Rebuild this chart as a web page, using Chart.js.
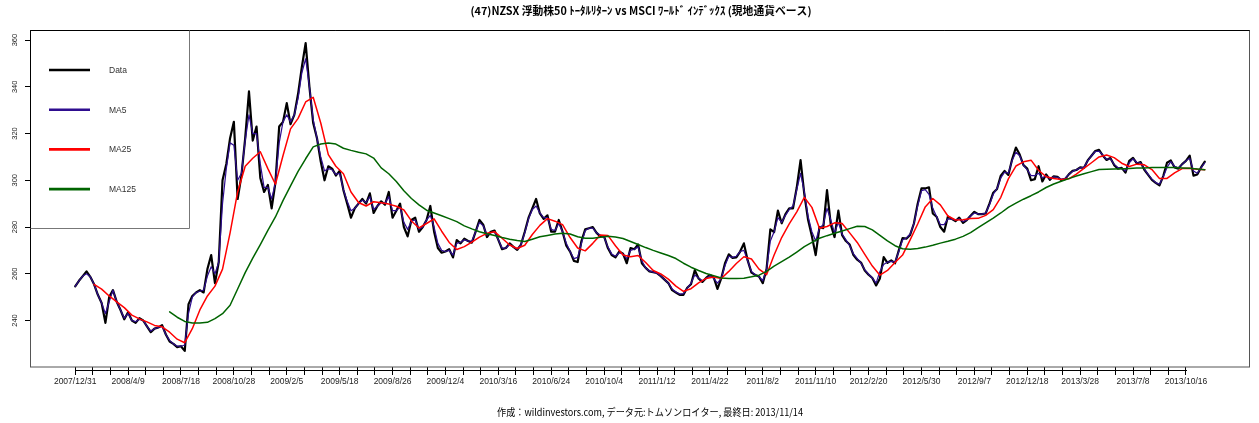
<!DOCTYPE html>
<html><head><meta charset="utf-8">
<script src="https://cdn.jsdelivr.net/npm/chart.js@4.4.1/dist/chart.umd.min.js"></script>
<style>html,body{margin:0;padding:0;background:#fff;}canvas{display:block;}</style>
</head><body>
<canvas id="c" width="1259" height="423"></canvas>
<script>
const titleText = '(47)NZSX 浮動株50 ﾄｰﾀﾙﾘﾀｰﾝ vs MSCI ﾜｰﾙﾄﾞ ｲﾝﾃﾞｯｸｽ (現地通貨ベース)';
const footerText = '作成：wildinvestors.com, データ元:トムソンロイター, 最終日: 2013/11/14';
const seriesNames = ['Data', 'MA5', 'MA25', 'MA125'];
const xLabels = ['2007/12/31','2008/4/9','2008/7/18','2008/10/28','2009/2/5','2009/5/18','2009/8/26','2009/12/4','2010/3/16','2010/6/24','2010/10/4','2011/1/12','2011/4/22','2011/8/2','2011/11/10','2012/2/20','2012/5/30','2012/9/7','2012/12/18','2013/3/28','2013/7/8','2013/10/16'];
const labelEvery = 70;      // trading days between labelled dates
const minorPerLabel = 3;    // tick marks per labelled interval
const yTicks = [240, 260, 280, 300, 320, 340, 360];
const lastIndex = 1495;     // last trading-day index (2013/11/14)

// closing values, one every 5 trading days from index 0
const dataStep = 5;
const dataValues = [
254.6,257,259,261,258.7,255.5,251,247.5,239,250,
253,248,244.5,240.5,243.5,240,239,241,240,237.5,
235,236.5,237,238,234,231,230,228.6,229,227,
247,250.5,252,253,252,262,268,256,265,300,
307,318,325,292,302,318,338,317,323,301,
295,298,288,299,323,325,333,324,328,337,
348.5,358.7,340,324.5,318,308,300,306,305,302,
304,295.8,290,284,288,290,292,290,294.4,286,
289,291,289.5,295,284,287,290,280,276,283,
284,278,280,283,289,278,271,269,269.5,270.5,
267,274.4,273,275,274,273.3,278,283,281,275.7,
278,278.5,274.5,270.5,271,273,271.5,270.2,272.5,278,
284,288,292,285.8,283.5,285,278,278,283,278,
272,269.5,265.5,265,274,279,279.5,280,277.5,276,
276,271,268,267,269.5,268.6,264.5,271,270.5,272.5,
264.5,262.5,261,260.7,260.3,259,257.5,256,253,252,
251,251,254,255.5,261.5,258,256.5,258.2,259.5,258.5,
253.5,258,264.5,268.3,266.8,267,269.5,273,265.7,260.5,
259.5,258.8,256,262,279,277.8,287,281.6,285.5,288,
288,297,308.6,294,283,276,268,280,279.5,295.8,
281,275.7,287,276.5,274,272.5,268,266,264.8,261.4,
259.6,258.2,255,258,267.1,264.7,265.7,264.5,270,275.3,
275,276.6,281.5,290,296.5,296.5,297,285.8,284.4,280,
278,284.5,283.5,282.5,284,281.8,283,284.8,286.5,285.5,
285.5,285.8,290,294.7,296.3,302,304,302.3,309,314,
311,306.5,305,300,300.5,306,299.5,302.5,300.2,301.7,
301.5,300,300.5,302.5,304,304.4,305.5,305.3,308.5,310.5,
312.5,313,310.6,308.7,309.5,306.5,305,305.3,303.3,308.3,
309.6,307.2,307.8,304.5,302.3,300.2,298.9,297.8,301.8,307.5,
308.5,305.5,305,306.9,308.3,310.5,302,302.5,305.5,308
];
const ma5Values = [
254.6,257,259,260,258.7,255.5,251,247.5,243,248,
253,248,244.5,241,243,240,239.5,240.5,240,237.5,
235.5,236.5,237,237.5,234,231.5,230,229,229,229.5,
243,250,252,252.5,253,259,263,260,265,290,
305,316,315,300,303,317,328,320,320,307,
297,297,292,299,316,325,328,325,328,335,
346,352,340,326,318,310,304,305,304.5,302.5,
303,296,291,287,288,290,291.5,290.5,293,287.5,
289,290.5,290,293,287,287,288.5,282,279,282.5,
283,279,280,283,285,280,273,270,269.5,270,
268,273,273.5,274.5,274,274,278,282,280.5,276.5,
277.5,278,274.5,271,271,272.5,271.5,270.5,272.5,277.5,
283.5,287.5,289,286,284,284,279,278.5,281.5,278,
273,269.5,266.5,267,273,278.5,279.5,279.5,277.5,276.5,
275.5,271.5,268.5,267.5,269,268.5,266.5,270,270.5,271.5,
265.5,262.5,261.2,260.7,260.3,259,257.5,256,253.5,252.2,
251.3,251.5,253.8,256,259.5,258.2,257,258,259.2,258,
256,258,263.5,267.5,267,267.5,269.5,270,265.5,261,
259.6,258.8,257,262,274,278,284,282,285,287.5,
289,296,303,295,284.5,278,274,279.5,281,288,
283,277.5,282,277,274.5,272,268.5,266.5,264.5,261.7,
259.8,258.2,256,261,264,265,265.3,265,269.5,274.5,
275.3,277,281.5,289,295.5,296,294,288,284.5,281,
281,283.5,283.3,283,283.5,282.3,283,284.7,286,285.6,
285.5,286,289.5,294,296.5,301,303.5,303,308.5,312,
310.5,306.5,304.5,302,302,303,301,302,300.6,301.5,
301.3,300.5,300.8,302.5,303.8,304.5,305.3,305.5,308.3,310.5,
312.3,312.5,310.8,309,309.2,306.8,305.4,305,304,307.5,
309.2,307.6,307.5,304.8,302.5,300.5,299,298.3,301.5,305.5,
308,306,305.3,306.8,308.3,309.5,304,303,305.3,307.5
];
// 25-day moving average, one value every 10 trading days from index 25
const ma25Start = 25, ma25Step = 10;
const ma25Values = [
255.5,253.4,250.5,248,245.5,242.3,240.7,239.4,237.9,237.3,
235,232,230.5,236.5,244.5,250.5,254.7,262,277.5,295,
306,309.4,312.2,305,298.3,310.5,322,326.5,333.5,335.5,
324.5,311,306,302.8,295,290.5,289,290.8,290.4,289.8,
288.9,287.3,282.6,279.6,281.5,283.5,278.2,273.4,270.4,271.6,
273.5,275.7,277.3,278,275.2,272.3,270.8,272.2,276.8,280.7,
283.6,282.5,281,275.5,271,269.8,273,276.6,276.4,272,
268,267.3,267.8,264.8,261.4,259.9,257.7,254.7,252.5,253.6,
256.1,258,258.6,258,261,264.4,267.3,266.3,262,259.6,
268,275.5,281.3,286.5,292.7,288.4,279.5,280.2,281.8,281.5,
277.5,273.4,268.3,263.3,259.4,261.4,264.8,268,274.5,281.3,
288.6,292.2,289.5,284.7,283,283.1,283.6,283.7,285,287.4,
292.7,300.6,306.1,307.9,308.6,304.3,301.5,300.8,300.3,300.6,
302.6,305.1,307.5,310,310.8,309.7,307.3,305.9,306.9,306.6,
304.6,300.8,300.8,303.2,305,305.1,304.7,304.5
];
// 125-day moving average, one value every 10 trading days from index 125
const ma125Start = 125, ma125Step = 10;
const ma125Values = [
243.7,241.4,239.6,238.9,238.9,239.2,240.8,242.9,246.5,253.5,
260.5,266.7,272.5,278.6,284.3,291.3,297.6,303.8,309.2,314.3,
315.5,315.9,315.5,313.7,312.8,312,311.3,309.5,305.3,302.8,
299.5,295.5,292.2,289.5,287.2,286,284.8,283.6,282.3,280.5,
279.2,278,277.1,276.4,275.5,274.8,274.2,273.8,274.8,275.8,
276.4,277,277.3,277,275.8,275.2,275.2,275.6,276,275.7,
275.1,273.8,272.5,271.2,270,268.9,267.8,266.5,264.5,262.8,
261.4,260.1,259.2,258.2,258,258,258.1,258.7,259.4,261,
263.3,265.2,267.1,269.3,271.6,273.4,275.2,276.3,277.3,278.3,
279.3,280.3,280.2,278.8,276.4,274.1,272,270.7,270.5,270.8,
271.4,272.2,273.1,273.9,274.8,276,277.6,279.7,281.8,283.8,
286,288.4,290.2,291.9,293.4,295,296.9,298.4,299.6,300.7,
301.8,302.8,303.7,304.6,304.7,304.8,304.9,305,305.2,305.3,
305.5,305.5,305.5,305.5,305.3,305.1,304.8,304.5
];

function hasFont(name) {
  const c = document.createElement('canvas').getContext('2d');
  const t = 'mmmmwwwiil2007/12/31';
  c.font = '20px monospace'; const a = c.measureText(t).width;
  c.font = "20px '" + name + "', monospace"; const b = c.measureText(t).width;
  c.font = '20px serif'; const a2 = c.measureText(t).width;
  c.font = "20px '" + name + "', serif"; const b2 = c.measureText(t).width;
  return a !== b || a2 !== b2;
}
const narrow = hasFont('Liberation Sans Narrow');
const tickFam = narrow ? "'Liberation Sans Narrow', 'Liberation Sans', sans-serif" : "'Liberation Sans', sans-serif";
const xFontSize = narrow ? 10 : 8.5;
const yFontSize = narrow ? 8.5 : 7.5;
const legFontSize = narrow ? 9.5 : 8.5;
const jpFam = "'Noto Sans CJK JP', sans-serif";

const colors = ['#000000', '#2e0d8f', '#ff0000', '#006400'];
const widths = [2.2, 1.2, 1.5, 1.5];

function pts(vals, start, step) { return vals.map((v, k) => ({ x: start + k * step, y: v })); }

const xTickValues = [];
for (let i = 0; i <= (xLabels.length - 1) * minorPerLabel; i++) xTickValues.push(i * labelEvery / minorPerLabel);

function drawFit(ctx, text, cx, cy, font, targetW) {
  ctx.save();
  ctx.font = font;
  const m = ctx.measureText(text).width;
  ctx.translate(cx, cy);
  ctx.scale(targetW / m, 1);
  ctx.textAlign = 'center';
  ctx.textBaseline = 'middle';
  ctx.fillStyle = '#000';
  ctx.fillText(text, 0, 0);
  ctx.restore();
}

const deco = {
  id: 'deco',
  afterDatasetsDraw(chart) {
    const { ctx, chartArea: a, scales } = chart;
    ctx.save();
    // plot box
    ctx.strokeStyle = '#555';
    ctx.lineWidth = 1;
    ctx.strokeRect(a.left + 0.5, a.top + 0.5, a.right - a.left - 1, a.bottom - a.top - 0.5);
    // y axis line
    ctx.strokeStyle = '#000';
    ctx.beginPath();
    ctx.moveTo(a.left + 0.5, Math.round(scales.y.getPixelForValue(yTicks[0])));
    ctx.lineTo(a.left + 0.5, Math.round(scales.y.getPixelForValue(yTicks[yTicks.length - 1])));
    ctx.moveTo(a.left + 0.5, a.top + 0.5);
    ctx.lineTo(a.right - 0.5, a.top + 0.5);
    ctx.stroke();
    // x axis line
    const ay = Math.round(a.bottom + 3) + 0.5;
    ctx.beginPath();
    ctx.moveTo(Math.round(scales.x.getPixelForValue(xTickValues[0])), ay);
    ctx.lineTo(Math.round(scales.x.getPixelForValue(xTickValues[xTickValues.length - 1])) + 1, ay);
    ctx.stroke();
    // legend box
    const lx0 = a.left, ly0 = a.top, lx1 = 189, ly1 = 228;
    ctx.fillStyle = '#fff';
    ctx.fillRect(lx0 + 1, ly0 + 1, lx1 - lx0 - 1, ly1 - ly0 - 1);
    ctx.strokeStyle = '#777';
    ctx.beginPath();
    ctx.moveTo(lx0, ly1 + 0.5); ctx.lineTo(lx1 + 0.5, ly1 + 0.5); ctx.lineTo(lx1 + 0.5, ly0);
    ctx.stroke();
    ctx.strokeStyle = '#000';
    ctx.beginPath();
    ctx.moveTo(lx0 + 0.5, ly0 + 0.5); ctx.lineTo(lx0 + 0.5, ly1 + 0.5);
    ctx.moveTo(lx0 + 0.5, ly0 + 0.5); ctx.lineTo(lx1 + 0.5, ly0 + 0.5);
    ctx.stroke();
    chart.data.datasets.forEach((ds, i) => {
      const y = 70 + i * 39.7;
      ctx.strokeStyle = ds.borderColor;
      ctx.lineWidth = 2.6;
      ctx.beginPath();
      ctx.moveTo(49, y); ctx.lineTo(90, y);
      ctx.stroke();
      ctx.fillStyle = '#333';
      ctx.font = legFontSize + 'px ' + tickFam;
      ctx.textAlign = 'left';
      ctx.textBaseline = 'middle';
      ctx.fillText(ds.label, 109, y + 0.5);
    });
    ctx.restore();
  },
  afterDraw(chart) {
    const ctx = chart.ctx;
    drawFit(ctx, titleText, 641, 11, 'bold 11px ' + jpFam, 341);
    drawFit(ctx, footerText, 650, 412, '10px ' + jpFam, 306);
  }
};

new Chart(document.getElementById('c'), {
  type: 'line',
  data: {
    datasets: [
      { label: seriesNames[0], data: pts(dataValues, 0, dataStep), borderColor: colors[0], borderWidth: widths[0], order: 3 },
      { label: seriesNames[1], data: pts(ma5Values, 0, dataStep), borderColor: colors[1], borderWidth: widths[1], order: 2 },
      { label: seriesNames[2], data: pts(ma25Values, ma25Start, ma25Step), borderColor: colors[2], borderWidth: widths[2], order: 1 },
      { label: seriesNames[3], data: pts(ma125Values, ma125Start, ma125Step), borderColor: colors[3], borderWidth: widths[3], order: 0 }
    ]
  },
  options: {
    responsive: false,
    animation: false,
    devicePixelRatio: 1,
    layout: { padding: { left: 0, right: 9, top: 30, bottom: 0 } },
    plugins: { legend: { display: false }, title: { display: false }, tooltip: { enabled: false } },
    elements: { point: { radius: 0 }, line: { tension: 0, borderJoinStyle: 'round', borderCapStyle: 'round', fill: false } },
    scales: {
      x: {
        type: 'linear',
        min: -0.04 * lastIndex,
        max: lastIndex * 1.04,
        afterBuildTicks: s => { s.ticks = xTickValues.map(v => ({ value: v })); },
        afterFit: s => { s.height = 56; },
        border: { display: false },
        grid: { drawOnChartArea: false, drawTicks: true, tickLength: 8, color: '#000', lineWidth: 1 },
        ticks: {
          autoSkip: false, maxRotation: 0, minRotation: 0, padding: 2, color: '#222',
          font: { family: tickFam, size: xFontSize },
          callback: (v, i) => (i % minorPerLabel === 0 ? xLabels[i / minorPerLabel] : '')
        }
      },
      y: {
        type: 'linear',
        min: 220.1,
        max: 364.3,
        afterBuildTicks: s => { s.ticks = yTicks.map(v => ({ value: v })); },
        afterFit: s => { s.width = 30; },
        border: { display: false },
        grid: { drawOnChartArea: false, drawTicks: true, tickLength: 5, color: '#000', lineWidth: 1 },
        ticks: {
          minRotation: 90, maxRotation: 90, crossAlign: 'center', padding: 4, color: '#222',
          font: { family: tickFam, size: yFontSize },
          callback: v => String(v)
        }
      }
    }
  },
  plugins: [deco]
});
</script>
</body></html>
